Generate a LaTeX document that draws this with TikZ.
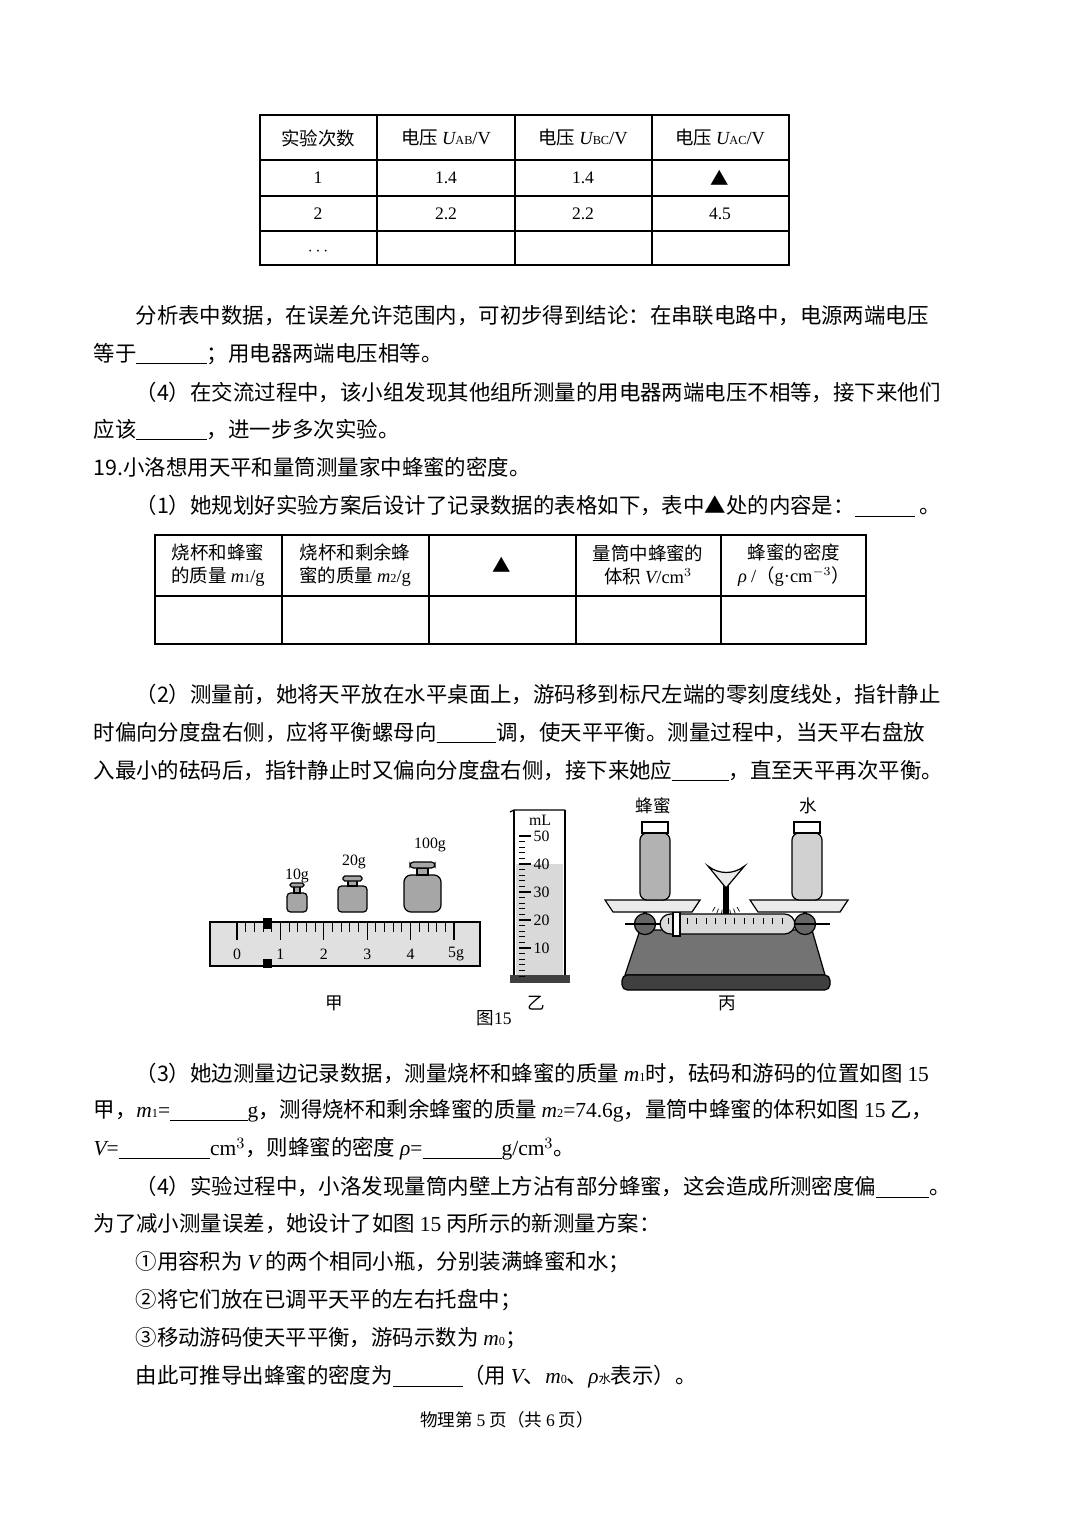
\documentclass[tikz,border=0pt]{standalone}
\usepackage{fontspec}
\setmainfont{Noto Sans CJK SC}
\newfontfamily\lat{Liberation Serif}
\usetikzlibrary{positioning}
\newcommand{\blank}[1][40]{\underline{\hspace{#1pt}}}
\newcommand{\vv}[1]{{\lat\itshape #1}}
\tikzset{
  txt/.style={anchor=west, inner sep=0pt, font=\fontsize{12.2pt}{14pt}\selectfont},
  cell/.style={inner sep=0pt, align=center, font=\fontsize{10.5pt}{13pt}\selectfont},
  small/.style={inner sep=0pt, font=\fontsize{10pt}{12pt}\selectfont},
  num/.style={inner sep=0pt, font=\fontsize{9pt}{10pt}\selectfont\lat},
}
\begin{document}
\begin{tikzpicture}[x=0.02cm, y=-0.02cm, line width=0.7pt]
  \useasboundingbox (0,0) rectangle (1080,1515);

  % Tabel 1
  \draw (260,115) rectangle (789,265);
  \foreach \yy in {160,196,231} \draw (260,\yy) -- (789,\yy);
  \foreach \xx in {377,515,652} \draw (\xx,115) -- (\xx,265);
  \node[cell] (t1a) at (318,138) {实验次数};
  \node[cell] (t1b) at (446,138) {电压 \vv{U}{\lat\scriptsize AB}{\lat/V}};
  \node[cell] (t1c) at (583,138) {电压 \vv{U}{\lat\scriptsize BC}{\lat/V}};
  \node[cell] (t1d) at (720,138) {电压 \vv{U}{\lat\scriptsize AC}{\lat/V}};
  \node[cell,font=\lat] (r1a) at (318,178) {1};
  \node[cell,font=\lat] (r1b) at (446,178) {1.4};
  \node[cell,font=\lat] (r1c) at (583,178) {1.4};
  \node[cell] (r1d) at (720,178) {▲};
  \node[cell,font=\lat] (r2a) at (318,214) {2};
  \node[cell,font=\lat] (r2b) at (446,214) {2.2};
  \node[cell,font=\lat] (r2c) at (583,214) {2.2};
  \node[cell,font=\lat] (r2d) at (720,214) {4.5};
  \node[cell,font=\lat] (r3a) at (318,252) {$\cdots$};

  % Text
  \node[txt] (l1) at (135,316) {分析表中数据，在误差允许范围内，可初步得到结论：在串联电路中，电源两端电压};
  \node[txt] (l2) at (93,354) {等于\blank；用电器两端电压相等。};
  \node[txt] (l3) at (135,392) {（4）在交流过程中，该小组发现其他组所测量的用电器两端电压不相等，接下来他们};
  \node[txt] (l4) at (93,430) {应该\blank，进一步多次实验。};
  \node[txt] (l5) at (93,467) {19.小洛想用天平和量筒测量家中蜂蜜的密度。};
  \node[txt] (l6) at (135,506) {（1）她规划好实验方案后设计了记录数据的表格如下，表中▲处的内容是：\blank[34]\ 。};

  % Tabel 2
  \draw (155,535) rectangle (866,644);
  \draw (155,596) -- (866,596);
  \foreach \xx in {282,429,576,721} \draw (\xx,535) -- (\xx,644);
  \node[cell] (h1) at (218,565) {烧杯和蜂蜜\\的质量 \vv{m}{\lat\scriptsize 1}{\lat/g}};
  \node[cell] (h2) at (355,565) {烧杯和剩余蜂\\蜜的质量 \vv{m}{\lat\scriptsize 2}{\lat/g}};
  \node[cell] (h3) at (502,565) {▲};
  \node[cell] (h4) at (648,565) {量筒中蜂蜜的\\体积 \vv{V}{\lat/cm$^3$}};
  \node[cell] (h5) at (794,565) {蜂蜜的密度\\\vv{ρ} {\lat/}（{\lat g·cm$^{-3}$}）};

  \node[txt] (l7) at (135,694) {（2）测量前，她将天平放在水平桌面上，游码移到标尺左端的零刻度线处，指针静止};
  \node[txt] (l8) at (93,733) {时偏向分度盘右侧，应将平衡螺母向\blank[34]调，使天平平衡。测量过程中，当天平右盘放};
  \node[txt] (l9) at (93,771) {入最小的砝码后，指针静止时又偏向分度盘右侧，接下来她应\blank[32]，直至天平再次平衡。};

  % Figur 甲
  \draw[fill=black!12] (210,922) rectangle (480,966);
  \foreach \i in {0,...,25} \draw[line width=0.5pt] ({237+\i*8.68},922) -- ++(0,10);
  \foreach \i in {0,...,5} \draw (237+\i*43.4,922) -- ++(0,18);
  \foreach \i/\lab in {0/0,1/1,2/2,3/3,4/4} \node[num] (rn\i) at (237+\i*43.4,954) {\lab};
  \node[num] (rn5) at (456,954) {5g};
  \fill (263,918) rectangle (272,929);
  \fill (263,959) rectangle (272,968);
  \draw[fill=black!35, rounded corners=2pt] (287,893) rectangle (307,912);
  \draw[fill=black!35] (294,886) rectangle (300,893);
  \draw[fill=black!35, rounded corners=1pt] (290,883) rectangle (304,887);
  \node[num] (w10) at (297,876) {10g};
  \draw[fill=black!35, rounded corners=2pt] (338,886) rectangle (367,912);
  \draw[fill=black!35] (348,880) rectangle (357,886);
  \draw[fill=black!35, rounded corners=1pt] (343,876) rectangle (362,881);
  \node[num] (w20) at (354,862) {20g};
  \draw[fill=black!35, rounded corners=4pt] (404,875) rectangle (441,912);
  \draw[fill=black!35] (417,868) rectangle (428,875);
  \draw[fill=black!35, rounded corners=2pt] (410,862) rectangle (435,868);
  \node[num] (w100) at (430,845) {100g};

  % Figur 乙
  \fill[black!15] (516,864) rectangle (563,975);
  \draw (514,810) -- (514,975) (565,810) -- (565,975);
  \draw (510,812) -- (514,810) -- (565,810);
  \fill[black!75] (510,975) rectangle (570,983);
  \foreach \i in {0,...,25} \draw[line width=0.5pt] (519,{976-\i*5.6}) -- ++(6,0);
  \foreach \i in {1,...,5} {
    \draw (519,976-\i*28) -- ++(12,0);
    \node[num,anchor=west] (c\i) at (533,976-\i*28) {\i0};
  }
  \node[num] (ml) at (540,820) {mL};

  % Figur 丙
  \draw[fill=black!55] (640,930) -- (812,930) -- (825,975) -- (625,975) -- cycle;
  \draw[fill=black!75, rounded corners=3pt] (622,975) rectangle (830,990);
  \draw[line width=2pt] (645,905) -- (645,935) (805,905) -- (805,935);
  \draw[line width=3pt] (726,878) -- (726,930);
  \draw[fill=black!8] (726,888) -- (708,866) arc (129:51:29) -- cycle;
  \foreach \a in {60,70,...,120} \draw[line width=0.4pt] (726,888) ++(\a:22) -- ++(\a:5);
  \draw[fill=black!15, rounded corners=6pt] (660,914) rectangle (795,934);
  \foreach \i in {0,...,12} \draw[line width=0.4pt] (668+\i*9.5,918) -- ++(0,6);
  \draw[fill=white] (673,912) rectangle (680,936);
  \draw[fill=black!60] (645,924) circle (6pt) (805,924) circle (6pt);
  \draw[line width=1.5pt] (625,924) -- (660,924) (795,924) -- (830,924);
  \draw[fill=black!8] (605,900) -- (700,900) -- (692,912) -- (613,912) -- cycle;
  \draw[fill=black!8] (750,900) -- (848,900) -- (840,912) -- (758,912) -- cycle;
  \draw[fill=black!30, rounded corners=4pt] (640,900) rectangle (670,833);
  \draw[fill=white] (642,822) rectangle (668,833);
  \draw[fill=black!18, rounded corners=4pt] (792,900) rectangle (822,833);
  \draw[fill=white] (794,822) rectangle (820,833);
  \node[small] (fm) at (653,806) {蜂蜜};
  \node[small] (sh) at (808,806) {水};

  \node[small] (jia) at (334,1003) {甲};
  \node[small] (yi) at (536,1003) {乙};
  \node[small] (bing) at (727,1003) {丙};
  \node[small] (fig) at (494,1018) {图{\lat 15}};

  \node[txt] (l10) at (135,1073) {（3）她边测量边记录数据，测量烧杯和蜂蜜的质量 \vv{m}{\lat\scriptsize 1}时，砝码和游码的位置如图 {\lat 15}};
  \node[txt] (l11) at (93,1111) {甲，\vv{m}{\lat\scriptsize 1}{\lat=}\blank[44]{\lat g}，测得烧杯和剩余蜂蜜的质量 \vv{m}{\lat\scriptsize 2}{\lat=74.6g}，量筒中蜂蜜的体积如图 {\lat 15} 乙，};
  \node[txt] (l12) at (93,1149) {\vv{V}{\lat=}\blank[52]{\lat cm$^3$}，则蜂蜜的密度 \vv{ρ}{\lat=}\blank[45]{\lat g/cm$^3$}。};
  \node[txt] (l13) at (135,1187) {（4）实验过程中，小洛发现量筒内壁上方沾有部分蜂蜜，这会造成所测密度偏\blank[30]。};
  \node[txt] (l14) at (93,1224) {为了减小测量误差，她设计了如图 {\lat 15} 丙所示的新测量方案：};
  \node[txt] (l15) at (135,1262) {①用容积为 \vv{V} 的两个相同小瓶，分别装满蜂蜜和水；};
  \node[txt] (l16) at (135,1300) {②将它们放在已调平天平的左右托盘中；};
  \node[txt] (l17) at (135,1338) {③移动游码使天平平衡，游码示数为 \vv{m}{\lat\scriptsize 0}；};
  \node[txt] (l18) at (135,1377) {由此可推导出蜂蜜的密度为\blank（用 \vv{V}、\vv{m}{\lat\scriptsize 0}、\vv{ρ}{\scriptsize 水}表示）。};

  \node[small] (foot) at (507,1420) {物理第 {\lat 5} 页（共 {\lat 6} 页）};
\end{tikzpicture}
\end{document}
